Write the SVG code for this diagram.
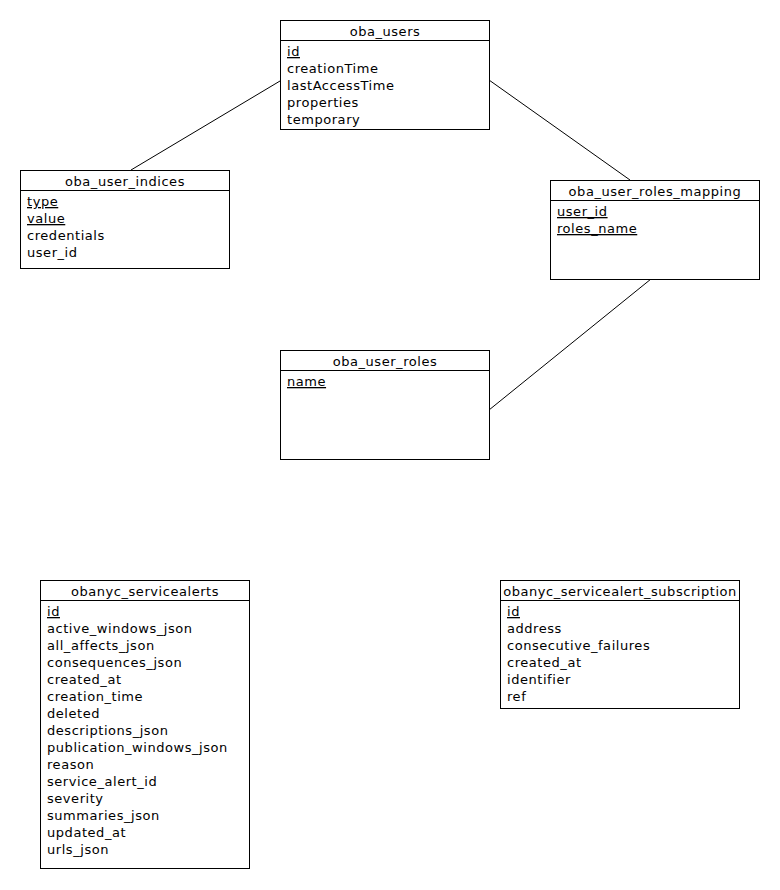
<svg xmlns="http://www.w3.org/2000/svg" width="780" height="890" viewBox="0 0 780 890">
<style>
.box{fill:#fff;stroke:#000;stroke-width:1}
.sep{stroke:#000;stroke-width:1}
.t{font-family:"DejaVu Sans",sans-serif;font-size:13px;letter-spacing:0.55px;fill:#000}
.title{text-anchor:middle}
.pk{text-decoration:underline}
.conn line{stroke:#000;stroke-width:1}
</style>
<rect width="780" height="890" fill="#fff"/>
<g id="connectors" class="conn">
<line x1="280" y1="81" x2="131" y2="170"/>
<line x1="489" y1="80" x2="630" y2="180"/>
<line x1="651" y1="279" x2="489" y2="410"/>
</g>
<g id="oba_users">
<rect class="box" x="280.5" y="20.5" width="209" height="109"/>
<line class="sep" x1="280.5" y1="40.5" x2="489.5" y2="40.5"/>
<text class="t title" x="385" y="36">oba_users</text>
<text class="t pk" x="287" y="56">id</text>
<text class="t" x="287" y="73">creationTime</text>
<text class="t" x="287" y="90">lastAccessTime</text>
<text class="t" x="287" y="107">properties</text>
<text class="t" x="287" y="124">temporary</text>
</g>
<g id="oba_user_indices">
<rect class="box" x="20.5" y="170.5" width="209" height="98"/>
<line class="sep" x1="20.5" y1="190.5" x2="229.5" y2="190.5"/>
<text class="t title" x="125" y="186">oba_user_indices</text>
<text class="t pk" x="27" y="206">type</text>
<text class="t pk" x="27" y="223">value</text>
<text class="t" x="27" y="240">credentials</text>
<text class="t" x="27" y="257">user_id</text>
</g>
<g id="oba_user_roles_mapping">
<rect class="box" x="550.5" y="180.5" width="209" height="99"/>
<line class="sep" x1="550.5" y1="200.5" x2="759.5" y2="200.5"/>
<text class="t title" x="655" y="196">oba_user_roles_mapping</text>
<text class="t pk" x="557" y="216">user_id</text>
<text class="t pk" x="557" y="233">roles_name</text>
</g>
<g id="oba_user_roles">
<rect class="box" x="280.5" y="350.5" width="209" height="109"/>
<line class="sep" x1="280.5" y1="370.5" x2="489.5" y2="370.5"/>
<text class="t title" x="385" y="366">oba_user_roles</text>
<text class="t pk" x="287" y="386">name</text>
</g>
<g id="obanyc_servicealerts">
<rect class="box" x="40.5" y="580.5" width="209" height="288"/>
<line class="sep" x1="40.5" y1="600.5" x2="249.5" y2="600.5"/>
<text class="t title" x="145" y="596">obanyc_servicealerts</text>
<text class="t pk" x="47" y="616">id</text>
<text class="t" x="47" y="633">active_windows_json</text>
<text class="t" x="47" y="650">all_affects_json</text>
<text class="t" x="47" y="667">consequences_json</text>
<text class="t" x="47" y="684">created_at</text>
<text class="t" x="47" y="701">creation_time</text>
<text class="t" x="47" y="718">deleted</text>
<text class="t" x="47" y="735">descriptions_json</text>
<text class="t" x="47" y="752">publication_windows_json</text>
<text class="t" x="47" y="769">reason</text>
<text class="t" x="47" y="786">service_alert_id</text>
<text class="t" x="47" y="803">severity</text>
<text class="t" x="47" y="820">summaries_json</text>
<text class="t" x="47" y="837">updated_at</text>
<text class="t" x="47" y="854">urls_json</text>
</g>
<g id="obanyc_servicealert_subscription">
<rect class="box" x="500.5" y="580.5" width="239" height="128"/>
<line class="sep" x1="500.5" y1="600.5" x2="739.5" y2="600.5"/>
<text class="t title" x="620" y="596">obanyc_servicealert_subscription</text>
<text class="t pk" x="507" y="616">id</text>
<text class="t" x="507" y="633">address</text>
<text class="t" x="507" y="650">consecutive_failures</text>
<text class="t" x="507" y="667">created_at</text>
<text class="t" x="507" y="684">identifier</text>
<text class="t" x="507" y="701">ref</text>
</g>
</svg>
